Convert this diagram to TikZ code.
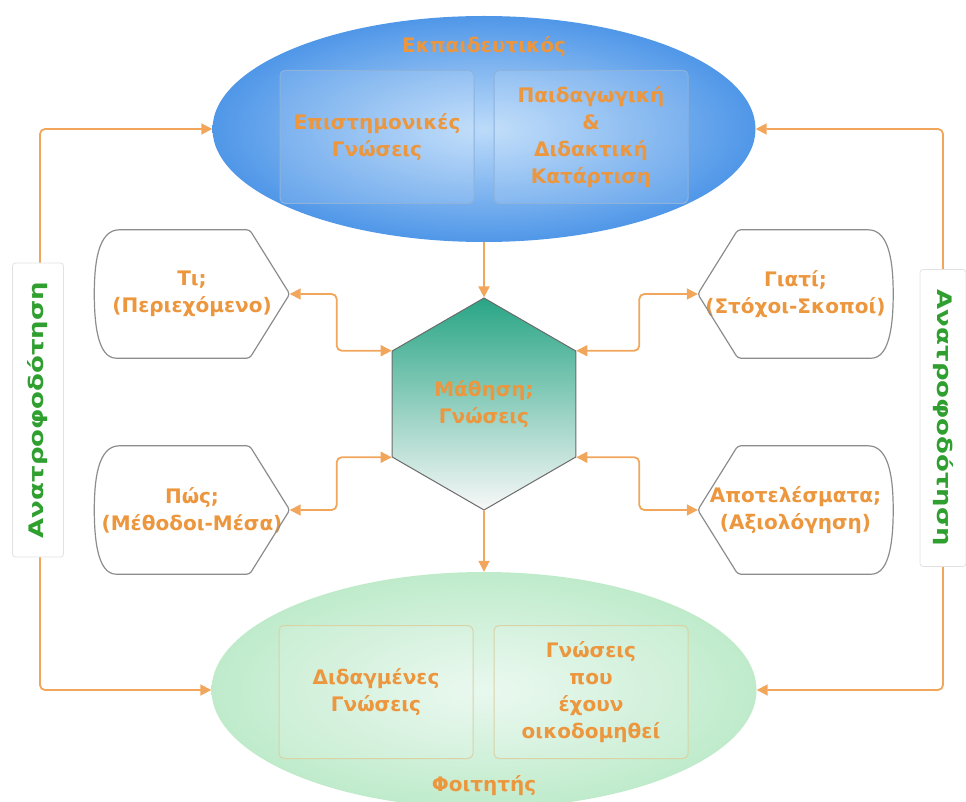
\documentclass[tikz,border=0pt]{standalone}
\usepackage{fontspec}
\setmainfont{DejaVu Sans}
\usetikzlibrary{shapes.geometric, arrows.meta, calc}

\definecolor{txtOrange}{HTML}{EC963E}
\definecolor{connOrange}{HTML}{F2A65C}
\definecolor{blueEdge}{HTML}{5097E8}
\definecolor{blueCenter}{HTML}{BCDBFA}
\definecolor{blueFrame}{HTML}{8DB2DC}
\definecolor{greenEdge}{HTML}{BFEBCB}
\definecolor{greenCenter}{HTML}{E8F8EE}
\definecolor{greenFrame}{HTML}{D9D3A6}
\definecolor{hexTop}{HTML}{28A585}
\definecolor{hexMid}{HTML}{8DAFA9}
\definecolor{hexBottom}{HTML}{F8F8F8}
\definecolor{hexLine}{HTML}{6B6B6B}
\definecolor{boxGray}{HTML}{8C8C8C}
\definecolor{fbGreen}{HTML}{2F9F2F}
\definecolor{fbFrame}{HTML}{E2E2E2}

% question box with a rounded back on the left and a point on the right
\newcommand\leftchev[1]{%
  \draw[boxline] ([yshift=0pt]#1.west)
    .. controls ([xshift=0pt,yshift=-36pt]#1.north west) and ([xshift=3pt]#1.north west) .. ([xshift=25pt]#1.north west)
    [rounded corners=3pt] -- ([xshift=-40pt]#1.north east) -- (#1.east)
    -- ([xshift=-40pt]#1.south east) -- ([xshift=25pt]#1.south west) [sharp corners]
    .. controls ([xshift=3pt]#1.south west) and ([xshift=0pt,yshift=36pt]#1.south west) .. (#1.west);}
% mirror image: point on the left, rounded back on the right
\newcommand\rightchev[1]{%
  \draw[boxline] (#1.east)
    .. controls ([xshift=0pt,yshift=-36pt]#1.north east) and ([xshift=-3pt]#1.north east) .. ([xshift=-25pt]#1.north east)
    [rounded corners=3pt] -- ([xshift=40pt]#1.north west) -- (#1.west)
    -- ([xshift=40pt]#1.south west) -- ([xshift=-25pt]#1.south east) [sharp corners]
    .. controls ([xshift=-3pt]#1.south east) and ([xshift=0pt,yshift=36pt]#1.south east) .. (#1.east);}

\begin{document}
\begin{tikzpicture}[x=1pt, y=-1pt,
  txt/.style={font=\fontsize{20}{27}\selectfont\bfseries, text=txtOrange, align=center},
  conn/.style={draw=connOrange, line width=1.8pt, rounded corners=5pt},
  tip/.style={-{Triangle[length=11pt,width=11pt]}},
  dtip/.style={{Triangle[length=11pt,width=11pt]}-{Triangle[length=11pt,width=11pt]}},
  topell/.style={ellipse, minimum width=543pt, minimum height=226pt, inner sep=0pt,
    inner color=blueCenter, outer color=blueEdge},
  stuell/.style={ellipse, minimum width=545pt, minimum height=236pt, inner sep=0pt,
    inner color=greenCenter, outer color=greenEdge},
  innerbox/.style={txt, rounded corners=5pt, minimum width=194pt, minimum height=133pt,
    inner sep=0pt, line width=1pt, fill=white, fill opacity=0.12, text opacity=1},
  hexa/.style={txt, regular polygon, regular polygon sides=6, shape border rotate=30,
    minimum size=212pt, inner sep=0pt, draw=hexLine, line width=1pt,
    top color=hexTop, middle color=hexMid, bottom color=hexBottom},
  sidebox/.style={txt, minimum width=195pt, minimum height=128pt, inner sep=0pt},
  boxline/.style={draw=boxGray, line width=1.2pt, line join=round},
  fbbox/.style={draw=fbFrame, fill=white, rounded corners=3pt, line width=0.8pt,
    inner sep=0pt, font=\fontsize{20}{24}\selectfont\bfseries, text=fbGreen}
]
\useasboundingbox (0,0) rectangle (966,802);

% teacher
\node[topell] (tea) at (484,129) {};
\node[txt] (teaT) at (484,47) {Εκπαιδευτικός};
\node[innerbox, draw=blueFrame] (sci) at (377,137) {Επιστημονικές\\Γνώσεις};
\node[innerbox, draw=blueFrame] (ped) at (591,137) {Παιδαγωγική\\\&\\Διδακτική\\Κατάρτιση};

% student
\begin{scope}
\clip (0,0) rectangle (966,802);
\node[stuell] (stu) at (484,690) {};
\end{scope}
\node[innerbox, draw=greenFrame] (taught) at (376,692) {Διδαγμένες\\Γνώσεις};
\node[innerbox, draw=greenFrame] (built) at (591,692) {Γνώσεις\\που\\έχουν\\οικοδομηθεί};
\node[txt] (stuT) at (484,786) {Φοιτητής};

% centre
\node[hexa] (hex) at (484,404) {Μάθηση;\\Γνώσεις};

% side questions
\node[sidebox] (ti) at (192,294) {Τι;\\(Περιεχόμενο)};
\node[sidebox] (pos) at (192,510) {Πώς;\\(Μέθοδοι-Μέσα)};
\node[sidebox] (gia) at (795.5,294) {Γιατί;\\(Στόχοι-Σκοποί)};
\node[sidebox] (apo) at (795.5,510) {Αποτελέσματα;\\(Αξιολόγηση)};
\leftchev{ti}
\leftchev{pos}
\rightchev{gia}
\rightchev{apo}

% connectors
\draw[conn, tip] (tea.south) -- (hex.north);
\draw[conn, tip] (hex.south) -- (stu.north);
\draw[conn, dtip] (ti.east) -| ([xshift=-55pt]hex.150) -- (hex.150);
\draw[conn, dtip] (pos.east) -| ([xshift=-55pt]hex.210) -- (hex.210);
\draw[conn, dtip] (gia.west) -| ([xshift=63pt]hex.30) -- (hex.30);
\draw[conn, dtip] (apo.west) -| ([xshift=63pt]hex.330) -- (hex.330);

% feedback loops
\coordinate (fbLc) at (40,410);
\coordinate (fbRc) at (943,418);
\draw[conn, tip] (fbLc) |- (tea.west);
\draw[conn, tip] (fbLc) |- (stu.west);
\draw[conn, tip] (fbRc) |- (tea.east);
\draw[conn, tip] (fbRc) |- (stu.east);
\node[fbbox, minimum width=294pt, minimum height=51pt, rotate=90] (fbL) at (38,410) {\scalebox{1.3}[1]{Ανατροφοδότηση}};
\node[fbbox, minimum width=297pt, minimum height=46pt, rotate=-90] (fbR) at (943,418) {\scalebox{1.3}[1]{Ανατροφοδότηση}};
\end{tikzpicture}
\end{document}
